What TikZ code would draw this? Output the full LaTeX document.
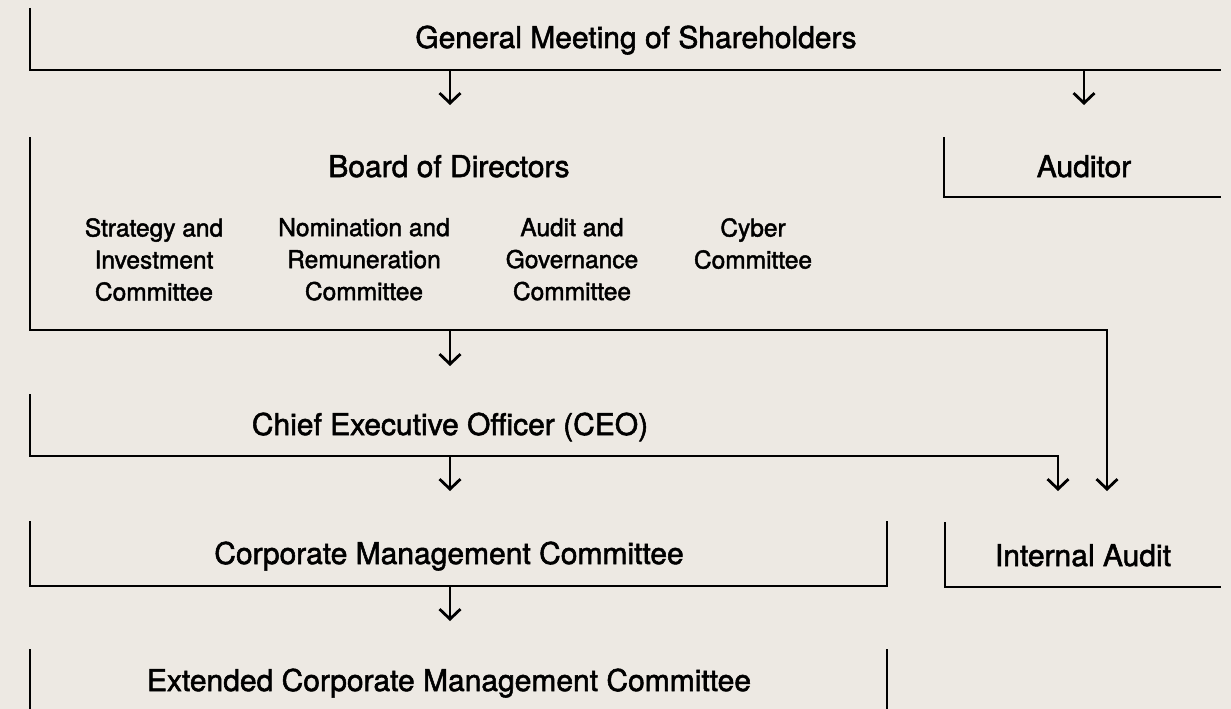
\documentclass[tikz,border=0pt]{standalone}
\usepackage{fontspec}
\setmainfont{TeX Gyre Heros}[FakeBold=1.8]
\usepackage{tikz}
\usetikzlibrary{arrows.meta,positioning,calc}
\definecolor{paper}{RGB}{237,233,227}

\begin{document}
\begin{tikzpicture}[
    x=1pt, y=-1pt,
    rule/.style={line width=2.8pt, black, line cap=butt},
    flow/.style={line width=2.8pt, black,
      -{Straight Barb[length=10pt, width=21pt, line width=2.8pt]}},
    title/.style={inner sep=0pt, anchor=base, font=\fontsize{30}{34}\selectfont},
    committee/.style={inner sep=0pt, anchor=north, align=center,
      font=\fontsize{24.5}{32}\selectfont},
  ]

  % page
  \fill[paper] (0,0) rectangle (1231,709);
  \useasboundingbox (0,0) rectangle (1231,709);

  % frame corners
  \coordinate (gmTop)      at (30,8);
  \coordinate (gmEnd)      at (1221,70);
  \coordinate (boardTop)   at (30,137);
  \coordinate (boardCorner) at (1107,330);
  \coordinate (auditorTop) at (944,137);
  \coordinate (auditorEnd) at (1221,197);
  \coordinate (ceoTop)     at (30,394);
  \coordinate (ceoCorner)  at (1058,456);
  \coordinate (cmcTop)     at (30,521);
  \coordinate (cmcEnd)     at (887,586);
  \coordinate (iaTop)      at (945,522);
  \coordinate (iaEnd)      at (1221,587);
  \coordinate (ecmcTop)    at (30,649);
  \coordinate (ecmcEnd)    at (887,712);

  % arrow targets
  \coordinate (boardIn)    at (450,105);
  \coordinate (auditorIn)  at (1084,105);
  \coordinate (ceoIn)      at (450,366);
  \coordinate (cmcIn)      at (450,491);
  \coordinate (iaInCeo)    at (1058,491);
  \coordinate (iaInBoard)  at (1107,491);
  \coordinate (ecmcIn)     at (450,621);

  % labels
  \node (gm)      [title] at (636,48)   {General Meeting of Shareholders};
  \node (board)   [title] at (449,177)  {Board of Directors};
  \node (auditor) [title] at (1084,177) {Auditor};
  \node (ceo)     [title] at (450,435)  {Chief Executive Officer (CEO)};
  \node (cmc)     [title] at (449,564)  {Corporate Management Committee};
  \node (ia)      [title] at (1083,566) {Internal Audit};
  \node (ecmc)    [title] at (449,691)  {Extended Corporate Management Committee};

  % board committees
  \node (strategy)   [committee] at (154,218) {Strategy and\\Investment\\Committee};
  \node (nomination) [committee] at (364,218) {Nomination and\\Remuneration\\Committee};
  \node (governance) [committee] at (572,218) {Audit and\\Governance\\Committee};
  \node (cyber)      [committee] at (753,218) {Cyber\\Committee};

  % frames
  \draw[rule] (gmTop) |- (gmEnd);
  \draw[rule] (auditorTop) |- (auditorEnd);
  \draw[rule] (cmcTop) |- (cmcEnd) -- (cmcEnd |- cmcTop);
  \draw[rule] (iaTop) |- (iaEnd);
  \draw[rule] (ecmcTop) -- (ecmcTop |- ecmcEnd);
  \draw[rule] (ecmcEnd |- ecmcTop) -- (ecmcEnd);

  % flow
  \draw[flow] (boardIn |- gmEnd) -- (boardIn);
  \draw[flow] (auditorIn |- gmEnd) -- (auditorIn);
  \draw[flow] (boardTop) |- (boardCorner) -- (iaInBoard);
  \draw[flow] (ceoIn |- boardCorner) -- (ceoIn);
  \draw[flow] (ceoTop) |- (ceoCorner) -- (iaInCeo);
  \draw[flow] (cmcIn |- ceoCorner) -- (cmcIn);
  \draw[flow] (ecmcIn |- cmcEnd) -- (ecmcIn);

\end{tikzpicture}
\end{document}
